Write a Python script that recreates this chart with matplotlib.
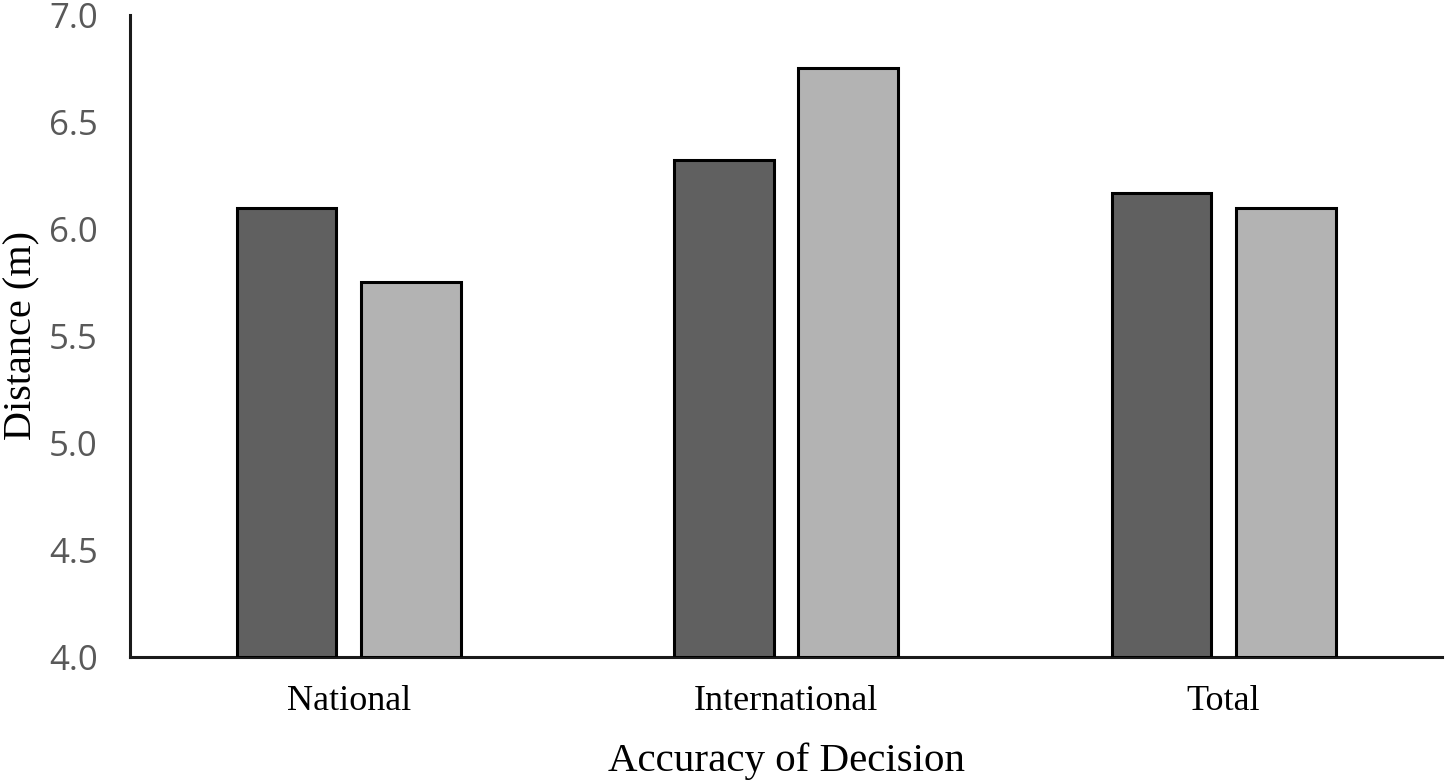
import numpy as np
import matplotlib
matplotlib.use("Agg")
import matplotlib.pyplot as plt

# donnees
categories = ["National", "International", "Total"]
serie_a = [6.10, 6.32, 6.17]
serie_b = [5.75, 6.75, 6.10]
y_ticks = [4.0, 4.5, 5.0, 5.5, 6.0, 6.5, 7.0]

fig = plt.figure(figsize=(14.47, 7.84), dpi=100)
ax = fig.add_axes([0.0898, 0.162, 0.9070, 0.819])

x = np.arange(len(categories))
largeur = 0.228
decal = 0.142

ax.bar(x - decal, [v - 4.0 for v in serie_a], largeur, bottom=4.0,
       color="#606060", edgecolor="black", linewidth=2.2, zorder=3)
ax.bar(x + decal, [v - 4.0 for v in serie_b], largeur, bottom=4.0,
       color="#b3b3b3", edgecolor="black", linewidth=2.2, zorder=3)

ax.set_xlim(-0.5, 2.5)
ax.set_ylim(4.0, 7.0)
ax.set_yticks(y_ticks)
ax.set_yticklabels(["%.1f" % t for t in y_ticks], fontfamily="Open Sans",
                   fontsize=25, color="#595959")
ax.set_xticks(x)
ax.set_xticklabels(categories, fontfamily="Liberation Serif", fontsize=26)
ax.tick_params(axis="y", length=0, pad=23)
ax.tick_params(axis="x", length=0, pad=20)

for s in ["top", "right"]:
    ax.spines[s].set_visible(False)
for s in ["left", "bottom"]:
    ax.spines[s].set_linewidth(2.2)
    ax.spines[s].set_color("#1a1a1a")

ax.set_xlabel("Accuracy of Decision", fontfamily="Liberation Serif",
              fontsize=29.5, labelpad=18)
ax.set_ylabel("Distance (m)", fontfamily="Liberation Serif", fontsize=29)
ax.yaxis.set_label_coords(-0.068, 0.5)

fig.savefig("out.png", dpi=100)
